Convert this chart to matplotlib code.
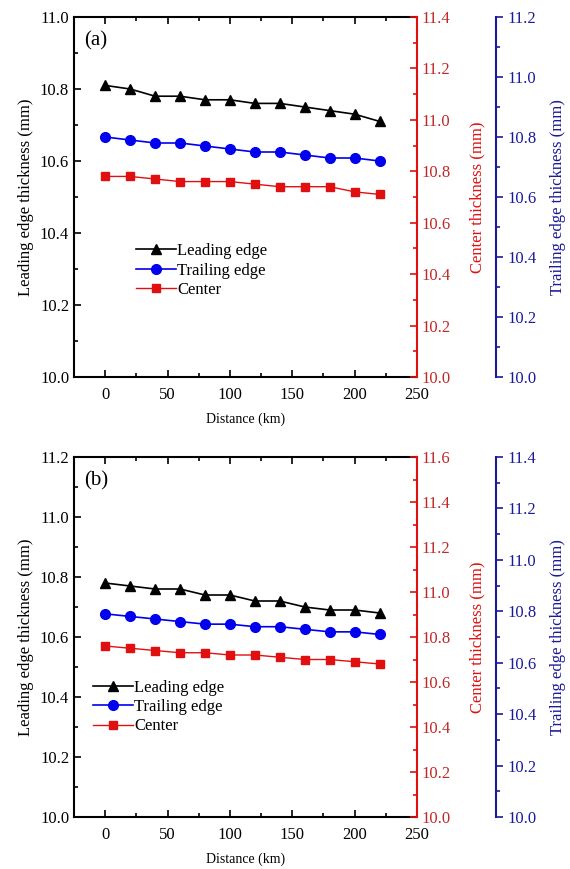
import matplotlib
matplotlib.use("Agg")
import matplotlib.pyplot as plt
from matplotlib.ticker import MultipleLocator

plt.rcParams['font.family'] = ['Liberation Serif', 'DejaVu Serif']

distance = [0, 20, 40, 60, 80, 100, 120, 140, 160, 180, 200, 220]

# Panel (a)
lead_a = [10.81, 10.80, 10.78, 10.78, 10.77, 10.77, 10.76, 10.76, 10.75, 10.74, 10.73, 10.71]
trail_a = [10.80, 10.79, 10.78, 10.78, 10.77, 10.76, 10.75, 10.75, 10.74, 10.73, 10.73, 10.72]
center_a = [10.78, 10.78, 10.77, 10.76, 10.76, 10.76, 10.75, 10.74, 10.74, 10.74, 10.72, 10.71]

# Panel (b)
lead_b = [10.78, 10.77, 10.76, 10.76, 10.74, 10.74, 10.72, 10.72, 10.70, 10.69, 10.69, 10.68]
trail_b = [10.79, 10.78, 10.77, 10.76, 10.75, 10.75, 10.74, 10.74, 10.73, 10.72, 10.72, 10.71]
center_b = [10.76, 10.75, 10.74, 10.73, 10.73, 10.72, 10.72, 10.71, 10.70, 10.70, 10.69, 10.68]

panels = [
    dict(tag="(a)", lead=lead_a, trail=trail_a, center=center_a,
         llim=(10.0, 11.0), clim=(10.0, 11.4), tlim=(10.0, 11.2),
         rect=[74/570, 1-377/869, 343/570, 360/869], leg=(0.16, 0.39)),
    dict(tag="(b)", lead=lead_b, trail=trail_b, center=center_b,
         llim=(10.0, 11.2), clim=(10.0, 11.6), tlim=(10.0, 11.4),
         rect=[74/570, 1-817/869, 343/570, 360/869], leg=(0.035, 0.40)),
]

RED = '#e01010'
RED_TXT = '#c02828'
NAVY = '#1a1a9a'
FS = 12

fig = plt.figure(figsize=(5.7, 8.69), dpi=100)

for p in panels:
    ax = fig.add_axes(p['rect'])
    axc = ax.twinx()
    axt = ax.twinx()
    axt.spines['right'].set_position(('outward', 57))

    l1, = ax.plot(distance, p['lead'], '-^', color='black', ms=7.5, lw=1.2, label='Leading edge')
    l2, = axt.plot(distance, p['trail'], '-o', color='#0000ee', ms=7, lw=1.2, label='Trailing edge')
    l3, = axc.plot(distance, p['center'], '-s', color=RED, ms=6, lw=1.0,
                   markeredgecolor=RED, label='Center')

    ax.set_xlim(-25, 250)
    ax.set_ylim(*p['llim'])
    axc.set_ylim(*p['clim'])
    axt.set_ylim(*p['tlim'])

    ax.xaxis.set_major_locator(MultipleLocator(50))
    ax.xaxis.set_minor_locator(MultipleLocator(25))
    for a in (ax, axc, axt):
        a.yaxis.set_major_locator(MultipleLocator(0.2))
        a.yaxis.set_minor_locator(MultipleLocator(0.1))

    ax.tick_params(axis='both', which='both', direction='in', top=True, right=False,
                   labelsize=FS, width=1.2)
    ax.tick_params(axis='x', which='major', pad=7)
    ax.tick_params(which='major', length=5)
    ax.tick_params(which='minor', length=3)
    ax.yaxis.set_major_formatter(plt.FormatStrFormatter('%.1f'))

    axc.tick_params(axis='y', which='both', direction='in', colors=RED, labelcolor=RED_TXT,
                    labelsize=FS, width=1.2)
    axc.tick_params(which='major', length=5)
    axc.tick_params(which='minor', length=3)
    axc.yaxis.set_major_formatter(plt.FormatStrFormatter('%.1f'))
    axc.spines['right'].set_color(RED)
    axc.spines['right'].set_linewidth(1.5)

    axt.tick_params(axis='y', which='both', direction='out', colors=NAVY, labelcolor=NAVY,
                    labelsize=FS, width=1.2)
    axt.tick_params(which='major', length=5)
    axt.tick_params(which='minor', length=3)
    axt.yaxis.set_major_formatter(plt.FormatStrFormatter('%.1f'))
    axt.spines['right'].set_color(NAVY)
    axt.spines['right'].set_linewidth(1.5)

    for s in ('left', 'top', 'bottom'):
        ax.spines[s].set_linewidth(1.5)
    for a in (axc, axt):
        for s in ('left', 'top', 'bottom'):
            a.spines[s].set_visible(False)
    ax.spines['right'].set_visible(False)

    ax.set_ylabel('Leading edge thickness (mm)', fontsize=12, labelpad=4)
    axc.set_ylabel('Center thickness (mm)', fontsize=12, color=RED, labelpad=13)
    axt.set_ylabel('Trailing edge thickness (mm)', fontsize=12, color=NAVY, labelpad=9)
    ax.set_xlabel('Distance (km)', fontsize=10, labelpad=7)

    ax.text(0.03, 0.96, p['tag'], transform=ax.transAxes, fontsize=15, va='top', ha='left')

    ax.legend(handles=[l1, l2, l3], loc='upper left', bbox_to_anchor=p['leg'],
              frameon=False, fontsize=12, handlelength=2.4, handletextpad=0.1,
              labelspacing=0.2, borderaxespad=0, numpoints=1)

fig.savefig('out.png', dpi=100)
